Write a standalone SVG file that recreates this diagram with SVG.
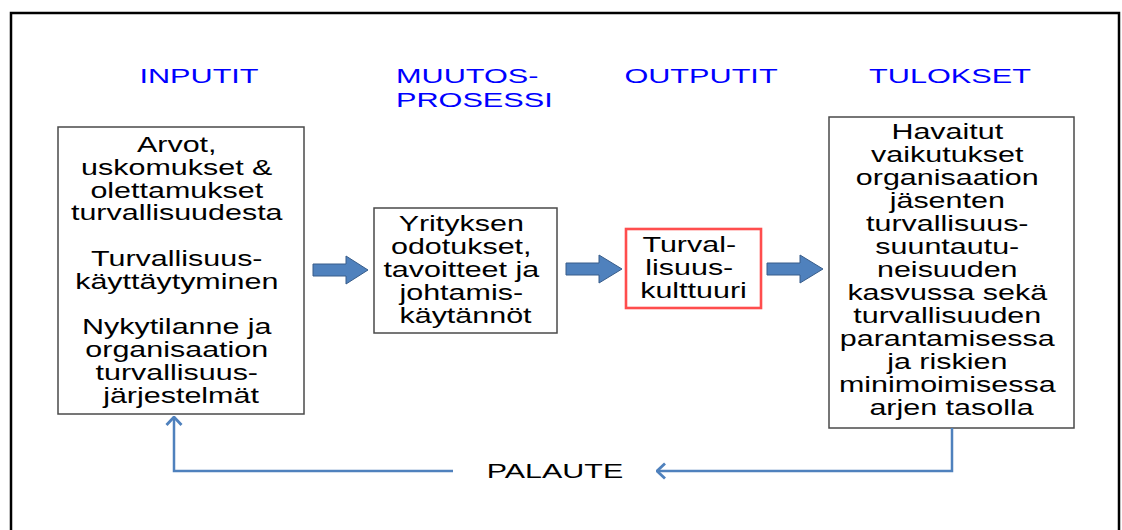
<svg xmlns="http://www.w3.org/2000/svg" width="1122" height="530" viewBox="0 0 1122 530">
  <style>
    .frame { fill: none; stroke: #000; stroke-width: 2.5; }
    .box { fill: #fff; stroke: #4a4a4a; stroke-width: 1.5; }
    .box-hl { fill: #fff; stroke: #ff4d4d; stroke-width: 2.6; }
    .head { font-family: "Liberation Sans", Arial, sans-serif; font-size: 21px; fill: #0000ff; }
    .body { font-family: "Liberation Sans", Arial, sans-serif; font-size: 22px; fill: #000; text-anchor: middle; }
    .label { font-family: "Liberation Sans", Arial, sans-serif; font-size: 21px; fill: #000; text-anchor: middle; }
    .block { fill: #4f81bd; stroke: #385d8a; stroke-width: 1; }
    .feedback { fill: none; stroke: #4f81bd; stroke-width: 2.5; }
  </style>
  <defs>
    <marker id="chevron" viewBox="0 0 10 18" refX="9" refY="9" markerWidth="10" markerHeight="18" markerUnits="userSpaceOnUse" orient="auto">
      <path d="M1,1.5 L9,9 L1,16.5" fill="none" stroke="#4f81bd" stroke-width="2.8"/>
    </marker>
  </defs>

  <rect width="1122" height="530" fill="#fff"/>
  <rect class="frame" x="11" y="13" width="1108" height="540"/>

  <!-- column headings -->
  <g id="headings">
    <text class="head" text-anchor="middle" transform="matrix(1.46 0 0 1 199 0)" x="0" y="83">INPUTIT</text>
    <text class="head" transform="matrix(1.46 0 0 1 396 0)" x="0" y="83">MUUTOS-<tspan x="0" y="107">PROSESSI</tspan></text>
    <text class="head" text-anchor="middle" transform="matrix(1.46 0 0 1 701 0)" x="0" y="83">OUTPUTIT</text>
    <text class="head" text-anchor="middle" transform="matrix(1.46 0 0 1 950 0)" x="0" y="83">TULOKSET</text>
  </g>

  <!-- inputs -->
  <g id="inputit">
    <rect class="box" x="58" y="127" width="246" height="287"/>
    <text class="body" transform="matrix(1.385 0 0 1 181 0)">
      <tspan x="0" y="152">Arvot,</tspan>
      <tspan x="0" y="174.8">uskomukset &amp;</tspan>
      <tspan x="0" y="197.6">olettamukset</tspan>
      <tspan x="0" y="220.4">turvallisuudesta</tspan>
      <tspan x="0" y="266">Turvallisuus-</tspan>
      <tspan x="0" y="288.8">käyttäytyminen</tspan>
      <tspan x="0" y="334.4">Nykytilanne ja</tspan>
      <tspan x="0" y="357.2">organisaation</tspan>
      <tspan x="0" y="380">turvallisuus-</tspan>
      <tspan x="0" y="402.8">järjestelmät</tspan>
    </text>
  </g>

  <!-- change process -->
  <g id="muutosprosessi">
    <rect class="box" x="374" y="208" width="183" height="125"/>
    <text class="body" transform="matrix(1.385 0 0 1 465.5 0)">
      <tspan x="0" y="231">Yrityksen</tspan>
      <tspan x="0" y="254">odotukset,</tspan>
      <tspan x="0" y="277">tavoitteet ja</tspan>
      <tspan x="0" y="300">johtamis-</tspan>
      <tspan x="0" y="323">käytännöt</tspan>
    </text>
  </g>

  <!-- outputs -->
  <g id="outputit">
    <rect class="box-hl" x="626" y="229" width="135" height="79"/>
    <text class="body" transform="matrix(1.385 0 0 1 693.5 0)">
      <tspan x="0" y="252">Turval-</tspan>
      <tspan x="0" y="275">lisuus-</tspan>
      <tspan x="0" y="298">kulttuuri</tspan>
    </text>
  </g>

  <!-- results -->
  <g id="tulokset">
    <rect class="box" x="829" y="117" width="245" height="311"/>
    <text class="body" transform="matrix(1.385 0 0 1 951.5 0)">
      <tspan x="0" y="139">Havaitut</tspan>
      <tspan x="0" y="162">vaikutukset</tspan>
      <tspan x="0" y="185">organisaation</tspan>
      <tspan x="0" y="208">jäsenten</tspan>
      <tspan x="0" y="231">turvallisuus-</tspan>
      <tspan x="0" y="254">suuntautu-</tspan>
      <tspan x="0" y="277">neisuuden</tspan>
      <tspan x="0" y="300">kasvussa sekä</tspan>
      <tspan x="0" y="323">turvallisuuden</tspan>
      <tspan x="0" y="346">parantamisessa</tspan>
      <tspan x="0" y="369">ja riskien</tspan>
      <tspan x="0" y="392">minimoimisessa</tspan>
      <tspan x="0" y="415">arjen tasolla</tspan>
    </text>
  </g>

  <!-- feedback label -->
  <g id="palaute">
    <text class="label" transform="matrix(1.45 0 0 1 555 0)" x="0" y="478">PALAUTE</text>
  </g>

  <!-- connectors -->
  <g id="connectors">
    <path class="block" d="M313,264 H346 V256 L368,270 L346,284 V276 H313 Z"/>
    <path class="block" d="M566,263 H599 V255 L622,269 L599,283 V275 H566 Z"/>
    <path class="block" d="M767,263 H800 V255 L823,269 L800,283 V275 H767 Z"/>
    <path class="feedback" d="M952,428 V471 H657" marker-end="url(#chevron)"/>
    <path class="feedback" d="M453,471 H174 V417" marker-end="url(#chevron)"/>
  </g>
</svg>
